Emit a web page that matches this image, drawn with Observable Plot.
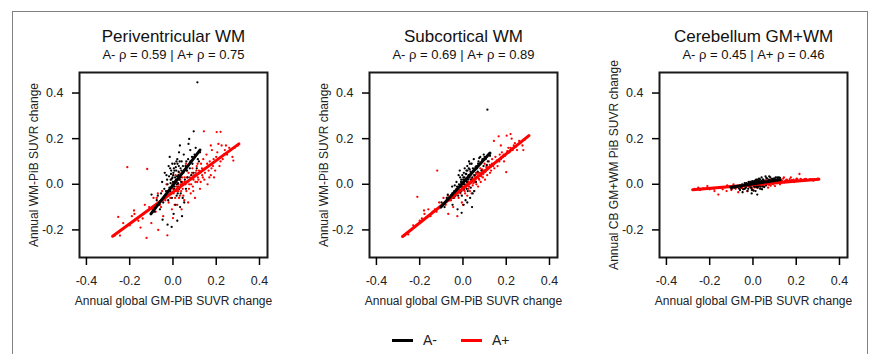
<!DOCTYPE html>
<html>
<head>
<meta charset="utf-8">
<script src="https://cdn.jsdelivr.net/npm/d3@7"></script>
<script src="https://cdn.jsdelivr.net/npm/@observablehq/plot@0.6"></script>
<style>
  body { margin: 0; background: #fff; font-family: "Liberation Sans", Arial, sans-serif; }
  #wrap { position: relative; width: 870px; height: 354px; overflow: hidden; background: #fff; }
  #border { position: absolute; left: 12px; top: 11px; width: 854px; height: 420px; border: 1px solid #808080; }
  .panel { position: absolute; top: 0; width: 290px; height: 320px; }
  #legend { position: absolute; top: 330px; left: 0; width: 870px; height: 20px; font-size: 14px; color: #222; }
  .lg { position: absolute; top: 0; height: 20px; line-height: 20px; }
  .sw { position: absolute; top: 9px; width: 21px; height: 3px; }
</style>
</head>
<body>
<div id="wrap">
  <div id="border"></div>
  <div id="p0" class="panel" style="left:0px"></div>
  <div id="p1" class="panel" style="left:290px"></div>
  <div id="p2" class="panel" style="left:580px"></div>
  <div id="legend"></div>
</div>
<script>
// ---- data ----
const panelTitles = ["Periventricular WM", "Subcortical WM", "Cerebellum GM+WM"];
const rhoNeg = ["0.59", "0.69", "0.45"];
const rhoPos = ["0.75", "0.89", "0.46"];
const yTitles = ["Annual WM-PiB SUVR change", "Annual WM-PiB SUVR change", "Annual CB GM+WM PiB SUVR change"];
const xTitle = "Annual global GM-PiB SUVR change";
const xTicks = [-0.4, -0.2, 0.0, 0.2, 0.4];
const yTicks = [-0.2, 0.0, 0.2, 0.4];
const xDomain = [-0.432, 0.437];
const yDomain = [-0.321, 0.490];
const groups = ["A-", "A+"];

// A- (amyloid negative) points: x = global change, y per region
const negX  = [0.113,0.096,0.075,0.072,-0.006,-0.025,-0.048,-0.099,-0.060,-0.085,-0.070,-0.040,-0.030,-0.020,-0.015,-0.010,-0.005,0.000,0.002,0.005,0.008,0.010,0.012,0.015,0.018,0.020,0.022,0.025,0.028,0.030,0.033,0.035,0.038,0.040,0.045,0.048,0.050,0.055,0.058,0.060,0.065,0.070,0.080,0.085,0.090,0.100,0.110,0.120,-0.002,0.004,0.006,0.014,0.016,0.024,0.027,-0.008,-0.012,-0.025,-0.035,0.003,0.032,0.042,0.020,-0.050,0.052,
  0.001,0.003,0.007,0.009,0.011,0.013,0.017,0.019,0.021,0.023,0.026,0.029,0.031,0.034,0.036,0.039,0.043,0.046,-0.001,-0.003,-0.004,-0.007,-0.009,-0.011,-0.013,-0.016,-0.018,-0.022,-0.027,-0.032,-0.038,-0.045,-0.055,-0.065,-0.075,0.062,0.068,0.078,0.088,0.095,0.105,0.115,0.125];
const negPV = [0.447,0.232,0.199,0.177,-0.187,-0.177,-0.155,-0.045,-0.110,-0.120,-0.050,-0.020,0.040,0.080,0.120,0.020,-0.060,0.010,0.050,-0.020,0.090,0.030,-0.090,0.060,0.000,0.110,-0.040,0.040,0.140,0.020,-0.100,0.070,0.010,0.100,-0.060,0.050,0.130,0.020,0.080,-0.020,0.060,0.110,0.150,0.040,0.090,0.130,0.070,0.100,0.030,0.070,-0.010,0.020,0.100,-0.010,0.080,0.060,-0.030,0.000,-0.060,-0.130,0.170,-0.140,-0.160,0.010,-0.080,
  0.040,0.000,0.060,-0.030,0.015,0.075,-0.050,0.035,0.090,0.005,0.055,-0.020,0.100,0.030,-0.040,0.060,0.000,0.080,-0.010,0.090,0.025,-0.040,0.045,0.005,0.070,-0.015,0.035,-0.070,0.020,-0.030,0.050,-0.080,-0.040,-0.090,-0.070,0.100,0.030,0.070,0.120,0.050,0.160,0.110,0.140];
const negSC = [0.327,0.130,0.115,0.100,-0.125,-0.110,-0.090,-0.080,-0.060,-0.100,-0.045,-0.030,0.010,0.040,0.060,-0.010,-0.050,0.000,0.030,-0.020,0.070,0.020,-0.070,0.045,0.010,0.080,-0.030,0.035,0.100,0.030,-0.060,0.055,0.020,0.090,-0.040,0.060,0.110,0.040,0.075,0.010,0.070,0.090,0.120,0.060,0.110,0.120,0.085,0.130,0.005,0.050,0.000,0.015,0.060,0.000,0.070,0.020,-0.035,-0.020,-0.050,-0.090,0.090,-0.100,-0.080,-0.010,-0.030,
  0.020,0.010,0.030,-0.010,0.015,0.045,-0.020,0.025,0.060,0.020,0.040,0.000,0.065,0.040,-0.015,0.050,0.030,0.070,-0.015,0.040,0.005,-0.030,0.010,-0.010,0.030,-0.025,0.000,-0.050,-0.010,-0.040,-0.005,-0.060,-0.050,-0.070,-0.060,0.080,0.055,0.090,0.100,0.080,0.110,0.100,0.125];
const negCB = [0.030,0.025,0.035,0.020,-0.040,-0.030,-0.035,-0.020,-0.025,-0.015,-0.010,-0.020,0.005,0.010,0.000,-0.015,-0.025,0.000,0.010,-0.010,0.015,0.005,-0.030,0.020,-0.005,0.010,-0.015,0.015,0.025,0.000,-0.020,0.010,0.005,0.030,-0.010,0.020,0.015,0.005,0.035,-0.005,0.025,0.010,0.030,0.015,0.020,0.025,0.020,0.030,0.000,0.010,-0.005,0.000,0.015,-0.008,0.010,0.005,-0.012,-0.005,-0.018,-0.028,0.020,-0.022,-0.045,0.000,-0.012,
  0.005,-0.002,0.012,-0.010,0.003,0.018,-0.012,0.008,0.020,0.000,0.012,-0.006,0.022,0.006,-0.010,0.015,0.002,0.020,-0.004,0.014,0.004,-0.015,0.008,-0.002,0.010,-0.008,0.003,-0.020,0.000,-0.012,0.005,-0.022,-0.014,-0.018,-0.012,0.028,0.012,0.018,0.024,0.016,0.030,0.022,0.028];

// A+ (amyloid positive) points
const posX  = [-0.270,-0.253,-0.245,-0.211,-0.180,-0.178,-0.160,-0.150,-0.122,-0.119,-0.110,-0.100,-0.090,-0.080,-0.070,-0.068,-0.060,-0.050,-0.045,-0.040,-0.030,-0.026,-0.020,-0.015,-0.010,-0.005,0.000,0.000,0.005,0.010,0.012,0.015,0.020,0.022,0.025,0.030,0.032,0.035,0.040,0.042,0.045,0.050,0.052,0.055,0.060,0.062,0.065,0.070,0.072,0.075,0.080,0.082,0.085,0.090,0.092,0.095,0.100,0.102,0.105,0.110,0.112,0.115,0.120,0.125,0.130,0.135,0.140,0.143,0.145,0.150,0.155,0.160,0.165,0.170,0.175,0.180,0.185,0.190,0.200,0.202,0.210,0.215,0.225,0.230,0.240,0.250,0.260,0.275,0.279,0.300,0.220,0.175,-0.200,-0.230,
  -0.035,-0.025,-0.012,-0.002,0.003,0.008,0.014,0.018,0.024,0.028,0.034,0.038,0.044,0.048,0.054,0.058,0.064,0.068,0.074,0.078,0.084,0.088,0.094,0.098,0.104,0.108,0.114,0.118,0.124,0.128,0.134,0.138,0.148,0.158,0.168,0.178,0.188,0.195,0.205,0.220,0.235,0.245,0.265,0.285,-0.055,-0.075,-0.095,-0.130,-0.140,-0.190];
const posPV = [-0.225,-0.143,-0.225,0.075,-0.115,-0.130,-0.160,-0.190,-0.235,0.067,-0.100,-0.170,-0.060,-0.120,-0.040,-0.200,-0.090,-0.030,-0.140,-0.060,0.000,-0.224,-0.080,-0.040,0.020,-0.110,-0.148,-0.020,0.010,-0.060,0.040,-0.010,-0.090,0.020,-0.030,0.050,-0.050,0.000,-0.110,0.030,-0.020,0.060,-0.070,0.010,0.090,-0.030,0.030,-0.080,0.050,0.000,0.100,-0.040,0.040,0.070,-0.010,0.020,0.120,-0.060,0.050,0.080,0.010,0.030,0.060,-0.020,0.090,0.040,0.110,0.232,0.020,0.070,0.130,0.000,0.060,0.100,0.040,0.150,0.080,0.030,0.120,0.229,0.177,0.080,0.170,0.110,0.150,0.130,0.160,0.120,0.104,0.170,0.230,0.170,-0.180,-0.170,
  -0.070,-0.030,-0.060,0.000,-0.040,-0.090,0.010,-0.030,0.000,-0.060,0.020,-0.030,0.010,-0.050,0.030,0.000,0.060,0.010,-0.020,0.030,0.000,0.050,-0.030,0.040,0.010,0.060,0.090,0.020,0.050,0.010,0.070,0.030,0.050,0.090,0.030,0.070,0.110,0.060,0.140,0.100,0.130,0.170,0.150,0.160,-0.100,-0.060,-0.110,-0.090,-0.150,-0.140];
const posSC = [-0.225,-0.220,-0.205,-0.055,-0.115,-0.130,-0.110,-0.140,-0.120,0.060,-0.080,-0.100,-0.060,-0.090,-0.050,-0.130,-0.070,-0.040,-0.100,-0.060,-0.020,-0.140,-0.060,-0.030,-0.010,-0.080,-0.090,-0.020,0.000,-0.040,0.020,-0.010,-0.050,0.010,-0.020,0.030,-0.030,0.005,-0.040,0.020,-0.005,0.040,-0.030,0.010,0.050,0.000,0.030,-0.010,0.050,0.020,0.070,0.010,0.040,0.060,0.030,0.050,0.090,0.020,0.060,0.080,0.040,0.070,0.100,0.050,0.060,0.110,0.080,0.190,0.070,0.120,0.100,0.080,0.210,0.130,0.110,0.140,0.120,0.100,0.053,0.213,0.160,0.140,0.200,0.150,0.180,0.150,0.190,0.170,0.150,0.210,0.220,0.170,-0.160,-0.180,
  -0.050,-0.030,-0.040,-0.010,-0.025,-0.030,0.000,-0.005,0.010,-0.010,0.020,0.010,0.025,0.005,0.035,0.020,0.045,0.030,0.025,0.050,0.035,0.065,0.045,0.060,0.055,0.075,0.065,0.070,0.085,0.075,0.090,0.085,0.095,0.105,0.100,0.120,0.130,0.125,0.145,0.160,0.170,0.165,0.180,0.195,-0.070,-0.070,-0.090,-0.110,-0.120,-0.150];
const posCB = [-0.020,-0.015,-0.025,-0.008,-0.020,-0.030,-0.045,-0.015,-0.030,-0.005,-0.010,-0.025,0.000,-0.020,-0.010,-0.035,-0.005,-0.015,-0.020,-0.008,0.005,-0.030,-0.010,0.000,0.010,-0.018,-0.025,0.005,-0.005,-0.012,0.008,0.000,-0.015,0.010,-0.005,0.012,-0.010,0.004,-0.020,0.008,-0.002,0.015,-0.010,0.005,0.018,-0.004,0.010,-0.015,0.012,0.000,0.020,-0.006,0.010,0.015,0.002,0.008,0.022,-0.008,0.012,0.018,0.005,0.010,0.015,0.000,0.020,0.012,0.025,0.030,0.008,0.016,0.020,0.010,0.014,0.022,0.012,0.018,0.015,0.010,0.020,0.025,0.016,0.045,0.020,0.015,0.022,0.018,0.020,0.022,0.016,0.025,0.024,0.030,-0.022,-0.018,
  -0.012,-0.004,-0.010,0.002,-0.008,-0.014,0.004,-0.004,0.003,-0.010,0.006,-0.002,0.005,-0.008,0.008,0.002,0.014,0.004,-0.002,0.010,0.004,0.012,0.000,0.010,0.006,0.014,0.016,0.008,0.012,0.006,0.016,0.010,0.014,0.018,0.012,0.016,0.020,0.014,0.022,0.018,0.020,0.024,0.022,0.020,-0.016,-0.012,-0.018,-0.014,-0.022,-0.018];

// fitted regression line end points
const fitNegX = [-0.102, 0.125];
const fitNegY = [[-0.130, 0.150], [-0.100, 0.137], [-0.013, 0.020]];
const fitPosX = [-0.279, 0.305];
const fitPosY = [[-0.228, 0.177], [-0.229, 0.213], [-0.024, 0.022]];

const negY = [negPV, negSC, negCB];
const posY = [posPV, posSC, posCB];
const colors = {"A-": "#000000", "A+": "#ff0000"};

const fmt = d => d.toFixed(1);
const FONT = "'Liberation Sans', Arial, Helvetica, sans-serif";

for (let i = 0; i < 3; i++) {
  const neg = negX.map((x, k) => ({x, y: negY[i][k], g: "A-"}));
  const pos = posX.map((x, k) => ({x, y: posY[i][k], g: "A+"}));
  const fitNeg = fitNegX.map((x, k) => ({x, y: fitNegY[i][k], g: "A-"}));
  const fitPos = fitPosX.map((x, k) => ({x, y: fitPosY[i][k], g: "A+"}));

  const chart = Plot.plot({
    width: 290,
    height: 320,
    marginLeft: 79,
    marginRight: 23,
    marginTop: 72,
    marginBottom: 63,
    style: {fontFamily: FONT, fontSize: "12px", color: "black"},
    x: {domain: xDomain},
    y: {domain: yDomain},
    color: {domain: groups, range: [colors["A-"], colors["A+"]]},
    marks: [
      Plot.frame({stroke: "#1a1a1a", strokeWidth: 2}),
      Plot.dot(pos, {x: "x", y: "y", r: 1.15, fill: "g", stroke: null}),
      Plot.dot(neg, {x: "x", y: "y", r: 1.15, fill: "g", stroke: null}),
      Plot.line(fitPos, {x: "x", y: "y", stroke: "g", strokeWidth: 3}),
      Plot.line(fitNeg, {x: "x", y: "y", stroke: "g", strokeWidth: 3}),
      Plot.axisX({ticks: xTicks, tickFormat: fmt, tickSize: 8, tickPadding: 11, label: null, strokeWidth: 1.5, fontSize: 12.5, fill: "#222"}),
      Plot.axisY({ticks: yTicks, tickFormat: fmt, tickSize: 7, tickPadding: 9, label: null, strokeWidth: 1.5, fontSize: 12.5, fill: "#222"}),
      Plot.text([panelTitles[i]], {frameAnchor: "top", lineAnchor: "middle", dy: -36, fontSize: 17, fill: "#111"}),
      Plot.text([`A- ρ = ${rhoNeg[i]} | A+ ρ = ${rhoPos[i]}`], {frameAnchor: "top", lineAnchor: "middle", dy: -18, fontSize: 13, fill: "#111"}),
      Plot.text([xTitle], {frameAnchor: "bottom", lineAnchor: "middle", dy: 44, fontSize: 12, fill: "#222"}),
      Plot.text([yTitles[i]], {frameAnchor: "left", textAnchor: "middle", lineAnchor: "middle", dx: -45, rotate: -90, fontSize: 12, fill: "#222"})
    ]
  });
  document.getElementById("p" + i).appendChild(chart);
}

// legend
const legend = document.getElementById("legend");
const lgPos = [{sw: 392, tx: 423}, {sw: 461, tx: 492}];
groups.forEach((g, k) => {
  const sw = document.createElement("div");
  sw.className = "sw";
  sw.style.left = lgPos[k].sw + "px";
  sw.style.background = colors[g];
  legend.appendChild(sw);
  const t = document.createElement("div");
  t.className = "lg";
  t.style.left = lgPos[k].tx + "px";
  t.textContent = g;
  legend.appendChild(t);
});
</script>
</body>
</html>
